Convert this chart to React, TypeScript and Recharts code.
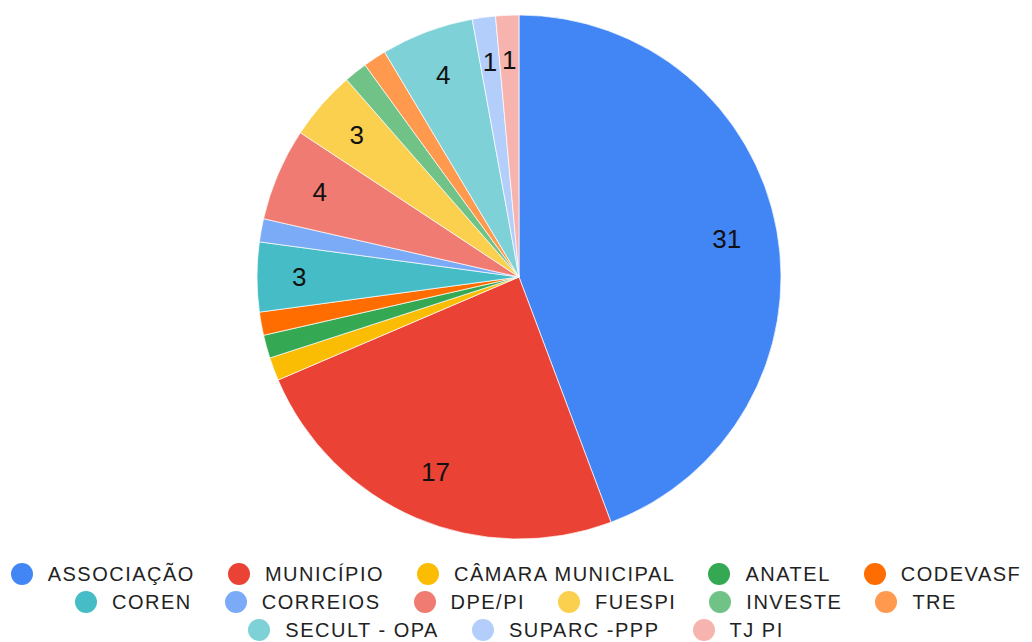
import { PieChart, Pie, Cell, Legend } from "recharts";

const NAMES = [
  "ASSOCIAÇÃO", "MUNICÍPIO", "CÂMARA MUNICIPAL", "ANATEL", "CODEVASF",
  "COREN", "CORREIOS", "DPE/PI", "FUESPI", "INVESTE", "TRE",
  "SECULT - OPA", "SUPARC -PPP", "TJ PI",
];
const VALUES = [31, 17, 1, 1, 1, 3, 1, 4, 3, 1, 1, 4, 1, 1];
const COLORS = [
  "#4285F4", "#EA4335", "#FBBC04", "#34A853", "#FF6D01",
  "#46BDC6", "#7BAAF7", "#F07B72", "#FCD04F", "#71C287", "#FF994D",
  "#7ED1D7", "#B3CEFB", "#F7B4AE",
];
// how many legend entries go on each line
const LEGEND_ROWS = [5, 6, 3];

const data = NAMES.map((name, i) => ({ name, value: VALUES[i] }));

const FONT = '"Liberation Sans", Arial, sans-serif';
const LABEL_SIZE = 26;
const RADIAN = Math.PI / 180;

// google-style label: sits inside the slice near the rim, hidden when it does not fit
function renderLabel(props: any) {
  const { cx, cy, midAngle, startAngle, endAngle, value } = props;
  const text = String(value);
  const w = 0.556 * LABEL_SIZE * text.length;
  const h = 0.73 * LABEL_SIZE;
  const cos = Math.cos(-midAngle * RADIAN);
  const sin = Math.sin(-midAngle * RADIAN);
  const radialExtent = (w / 2) * Math.abs(cos) + (h / 2) * Math.abs(sin);
  const r = 227 - radialExtent;
  const half = (Math.abs(endAngle - startAngle) * RADIAN * r) / 2;
  const sideExtent = (w / 2) * Math.abs(sin) + (h / 2) * Math.abs(cos);
  if (sideExtent > half) return null;
  return (
    <text
      x={cx + r * cos}
      y={cy + r * sin}
      textAnchor="middle"
      dominantBaseline="central"
      fill="#111"
      fontSize={LABEL_SIZE}
      fontFamily={FONT}
    >
      {text}
    </text>
  );
}

function LegendRows() {
  let idx = 0;
  return (
    <div style={{ fontFamily: FONT, fontSize: 20, letterSpacing: 1.5, color: "#222" }}>
      {LEGEND_ROWS.map((count, row) => {
        const items = NAMES.slice(idx, idx + count).map((n, k) => ({ n, c: COLORS[idx + k] }));
        idx += count;
        return (
          <div
            key={row}
            style={{ display: "flex", justifyContent: "center", alignItems: "center", height: 28, whiteSpace: "nowrap" }}
          >
            {items.map((it, k) => (
              <div key={it.n} style={{ display: "flex", alignItems: "center", marginLeft: k === 0 ? 0 : 33 }}>
                <span
                  style={{ width: 22, height: 22, borderRadius: 11, background: it.c, display: "inline-block", marginRight: 15 }}
                />
                <span>{it.n}</span>
              </div>
            ))}
          </div>
        );
      })}
    </div>
  );
}

export default function App() {
  return (
    <PieChart width={1016} height={634} margin={{ top: 0, right: 0, bottom: 0, left: 0 }}>
      <Pie
        data={data}
        dataKey="value"
        nameKey="name"
        cx={511}
        cy={269}
        outerRadius={262}
        startAngle={90}
        endAngle={-270}
        stroke="#fff"
        strokeWidth={0.7}
        label={renderLabel}
        labelLine={false}
        isAnimationActive={false}
      >
        {data.map((d, i) => (
          <Cell key={d.name} fill={COLORS[i]} />
        ))}
      </Pie>
      <Legend
        content={() => <LegendRows />}
        wrapperStyle={{ position: "absolute", top: 552, left: 0, width: 1016 }}
      />
    </PieChart>
  );
}
